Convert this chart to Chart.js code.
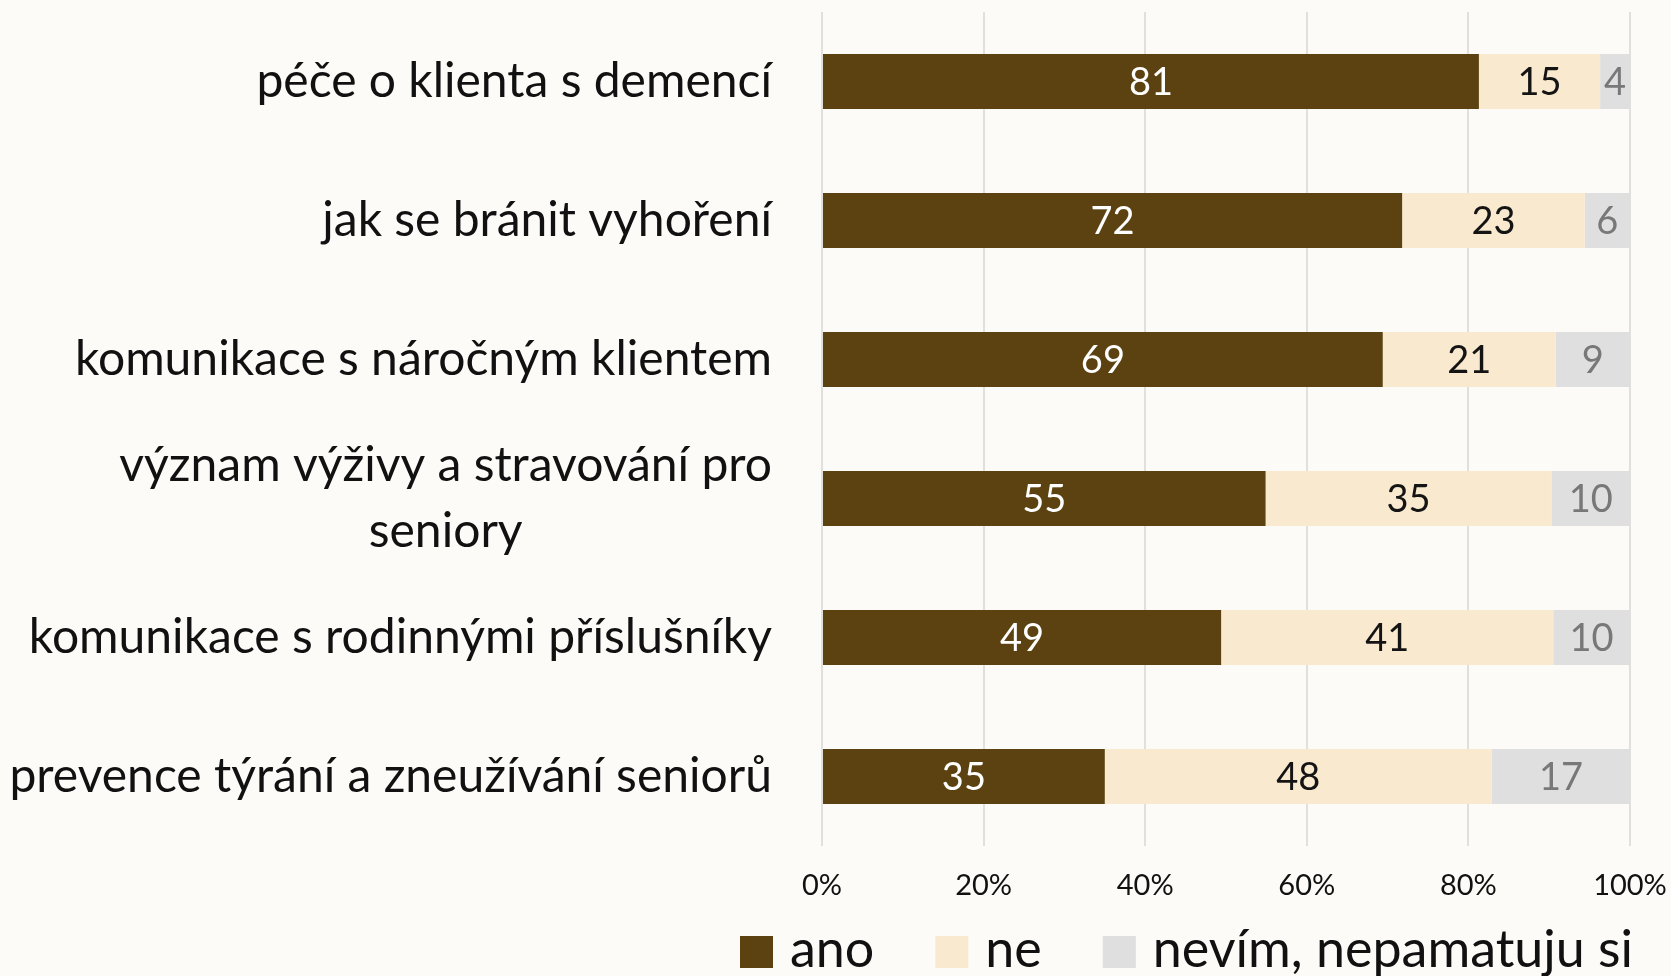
<!DOCTYPE html>
<html><head><meta charset="utf-8">
<script src="https://cdn.jsdelivr.net/npm/chart.js@4.4.1/dist/chart.umd.min.js"></script>
<style>html,body{margin:0;padding:0;background:#fcfbf8;} #wrap{width:1671px;height:976px;}</style>
</head><body><div id="wrap"><canvas id="c" width="1671" height="976"></canvas></div>
<script>
const categories = [
  "péče o klienta s demencí",
  "jak se bránit vyhoření",
  "komunikace s náročným klientem",
  ["význam výživy a stravování pro", "seniory"],
  "komunikace s rodinnými příslušníky",
  "prevence týrání a zneužívání seniorů"
];
const seriesNames = ["ano", "ne", "nevím, nepamatuju si"];
const anoValues   = [81.3, 71.8, 69.4, 54.9, 49.4, 35.0];
const neValues    = [15.0, 22.6, 21.4, 35.4, 41.1, 47.9];
const nevimValues = [3.7, 5.6, 9.2, 9.7, 9.5, 17.1];
const xTickValues = [0, 20, 40, 60, 80, 100];

const seriesColors = ["#5c4210", "#f9e9cf", "#dfdfdf"];
const labelColors = ["#ffffff", "#141414", "#787878"];
const FONT = "Lato";

const yLabelPlugin = {
  id: "yLabels",
  afterDraw(chart) {
    const ctx = chart.ctx, y = chart.scales.y, area = chart.chartArea;
    ctx.save();
    ctx.font = "48px " + FONT;
    ctx.fillStyle = "#111111";
    ctx.textAlign = "center";
    ctx.textBaseline = "middle";
    const lh = 66;
    chart.data.labels.forEach((lab, i) => {
      const lines = Array.isArray(lab) ? lab : [lab];
      const maxW = Math.max(...lines.map(l => ctx.measureText(l).width));
      const right = area.left - 50;
      const cx = right - maxW / 2;
      const cy = y.getPixelForValue(i);
      lines.forEach((l, j) => {
        ctx.fillText(l, cx, cy + (j - (lines.length - 1) / 2) * lh);
      });
    });
    ctx.restore();
  }
};

const dataLabelPlugin = {
  id: "dataLabels",
  afterDatasetsDraw(chart) {
    const ctx = chart.ctx;
    ctx.save();
    ctx.font = "38px " + FONT;
    ctx.textAlign = "center";
    ctx.textBaseline = "middle";
    chart.data.datasets.forEach((ds, di) => {
      const meta = chart.getDatasetMeta(di);
      ctx.fillStyle = labelColors[di];
      meta.data.forEach((el, i) => {
        const cx = (el.x + el.base) / 2;
        ctx.fillText(String(Math.round(ds.data[i])), cx, el.y + 1);
      });
    });
    ctx.restore();
  }
};

const legendPlugin = {
  id: "customLegend",
  afterDraw(chart) {
    const ctx = chart.ctx;
    ctx.save();
    ctx.font = "52px " + FONT;
    ctx.textBaseline = "middle";
    ctx.textAlign = "left";
    const boxW = 33, boxH = 32, gap = 17, spacing = 61, cy = 950;
    let x = 740;
    chart.data.datasets.forEach((ds) => {
      ctx.fillStyle = ds.backgroundColor;
      ctx.fillRect(x, cy - boxH / 2 + 2, boxW, boxH);
      x += boxW + gap;
      ctx.fillStyle = "#111111";
      ctx.fillText(ds.label, x, cy);
      x += ctx.measureText(ds.label).width + spacing;
    });
    ctx.restore();
  }
};

new Chart(document.getElementById("c"), {
  type: "bar",
  data: {
    labels: categories,
    datasets: [
      { label: seriesNames[0], data: anoValues, backgroundColor: seriesColors[0] },
      { label: seriesNames[1], data: neValues, backgroundColor: seriesColors[1] },
      { label: seriesNames[2], data: nevimValues, backgroundColor: seriesColors[2] }
    ]
  },
  options: {
    indexAxis: "y",
    responsive: false,
    animation: false,
    devicePixelRatio: 1,
    barPercentage: 0.396,
    categoryPercentage: 1.0,
    layout: { padding: { top: 12, right: 0, bottom: 70, left: 0 } },
    plugins: { legend: { display: false }, tooltip: { enabled: false } },
    scales: {
      x: {
        stacked: true,
        min: 0, max: 100,
        afterBuildTicks: (s) => { s.ticks = xTickValues.map(v => ({ value: v })); },
        afterFit: (s) => { s.height = 60; s.paddingRight = 41; s.paddingLeft = 0; },
        ticks: {
          callback: (v) => v + "%",
          font: { family: FONT, size: 29 },
          color: "#111111",
          padding: 22,
          maxRotation: 0
        },
        grid: { color: "#e2e0dd", lineWidth: 2, drawTicks: false },
        border: { display: false }
      },
      y: {
        stacked: true,
        afterFit: (s) => { s.width = 822; },
        ticks: { display: false },
        grid: { display: false },
        border: { display: false }
      }
    }
  },
  plugins: [yLabelPlugin, dataLabelPlugin, legendPlugin]
});
</script></body></html>
